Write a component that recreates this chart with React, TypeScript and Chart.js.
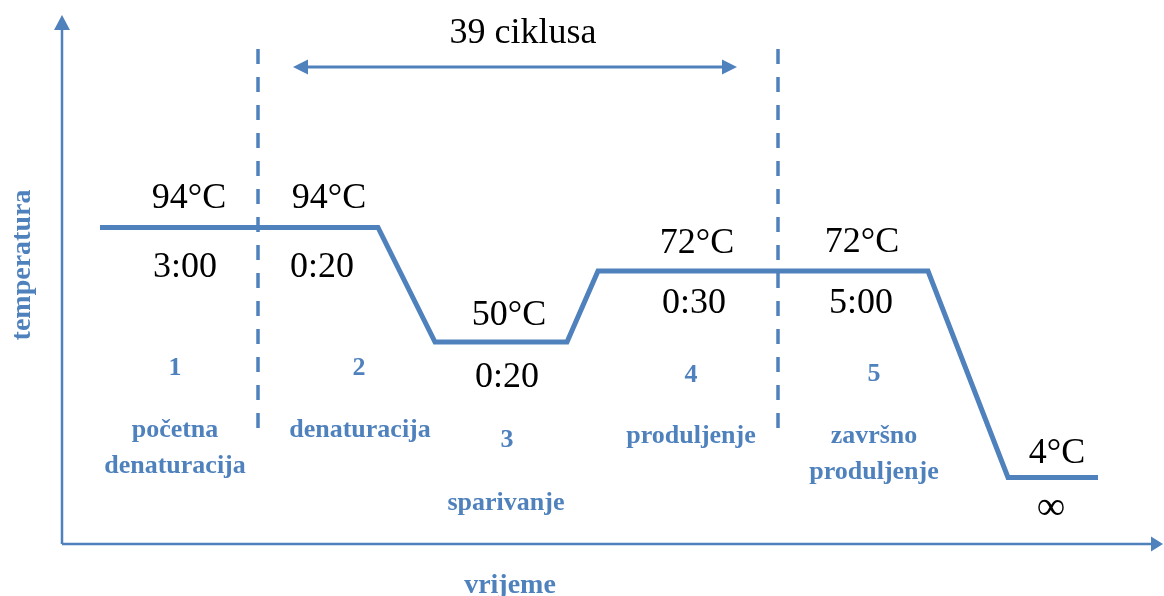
import React, { useEffect, useRef } from "react";
import { Chart, registerables } from "chart.js";

Chart.register(...registerables);

// ---- Data (diagram units: time from the y-axis, level above the x-axis) ----
const profileTime = [38, 316, 373, 505, 536, 866, 946, 1036];
const profileLevel = [316.5, 316.5, 202, 202, 273, 273, 66.5, 66.5];

const temperatures = ["94°C", "94°C", "50°C", "72°C", "72°C", "4°C"];
const durations = ["3:00", "0:20", "0:20", "0:30", "5:00", "∞"];
const stepNumbers = ["1", "2", "3", "4", "5"];
const stepNames = [
  ["početna", "denaturacija"],
  ["denaturacija"],
  ["sparivanje"],
  ["produljenje"],
  ["završno", "produljenje"],
];
const cycleBoundaries = [196, 716];
const cycleLabel = "39 ciklusa";
const xTitle = "vrijeme";
const yTitle = "temperatura";

// ---- Layout (anchors in diagram units) ----
const tempPos = [[127, 336], [267, 336], [447, 219], [635, 291], [800, 292], [995, 81]];
const durPos = [[123, 267], [260, 267], [445, 157], [632, 231], [799, 231], [989, 25]];
const stepNumPos = [[113, 169], [297, 169], [445, 97], [629, 162], [812, 163]];
const stepNamePos = [[113, 107], [298, 107], [444, 34], [629, 101], [812, 101]];
const stepLineGap = 36;
const cycleArrow = { y: 477, x0: 231, x1: 675, labelX: 461, labelY: 501 };
const dashSpan = [116, 495];
const axisEnds = { x: 1101, y: 529 };
const xTitlePos = [448, -49];
const yTitlePos = [-32, 279];

const BLUE = "#4F81BD";
const SERIF = '"Liberation Serif", "Times New Roman", serif';

const diagramPlugin = {
  id: "pcrDiagram",
  afterDatasetsDraw(chart: any) {
    const ctx = chart.ctx as CanvasRenderingContext2D;
    const xs = chart.scales.x;
    const ys = chart.scales.y;
    const px = (v: number) => xs.getPixelForValue(v);
    const py = (v: number) => ys.getPixelForValue(v);

    const tri = (tx: number, ty: number, dirX: number, dirY: number, len: number, half: number) => {
      const bx = tx - dirX * len;
      const by = ty - dirY * len;
      ctx.beginPath();
      ctx.moveTo(tx, ty);
      ctx.lineTo(bx - dirY * half, by + dirX * half);
      ctx.lineTo(bx + dirY * half, by - dirX * half);
      ctx.closePath();
      ctx.fill();
    };

    ctx.save();
    ctx.fillStyle = BLUE;
    // axis arrowheads
    tri(px(axisEnds.x), py(0), 1, 0, 12, 7.5);
    tri(px(0), py(axisEnds.y), 0, -1, 15, 8);
    // cycle arrowheads
    tri(px(cycleArrow.x0), py(cycleArrow.y), -1, 0, 15, 7.5);
    tri(px(cycleArrow.x1), py(cycleArrow.y), 1, 0, 15, 7.5);

    // black labels
    ctx.fillStyle = "#000";
    ctx.textAlign = "center";
    ctx.textBaseline = "alphabetic";
    ctx.font = `36px ${SERIF}`;
    temperatures.forEach((t, i) => ctx.fillText(t, px(tempPos[i][0]), py(tempPos[i][1])));
    durations.forEach((t, i) => {
      ctx.font = t === "∞" ? `40px ${SERIF}` : `36px ${SERIF}`;
      ctx.fillText(t, px(durPos[i][0]), py(durPos[i][1]));
    });
    ctx.font = `36px ${SERIF}`;
    ctx.fillText(cycleLabel, px(cycleArrow.labelX), py(cycleArrow.labelY));

    // blue step labels
    ctx.fillStyle = BLUE;
    ctx.font = `bold 26px ${SERIF}`;
    stepNumbers.forEach((n, i) => ctx.fillText(n, px(stepNumPos[i][0]), py(stepNumPos[i][1])));
    stepNames.forEach((lines, i) => {
      lines.forEach((l, j) =>
        ctx.fillText(l, px(stepNamePos[i][0]), py(stepNamePos[i][1] - j * stepLineGap))
      );
    });

    // axis titles
    ctx.font = `bold 28px ${SERIF}`;
    ctx.fillText(xTitle, px(xTitlePos[0]), py(xTitlePos[1]));
    ctx.save();
    ctx.translate(px(yTitlePos[0]), py(yTitlePos[1]));
    ctx.rotate(-Math.PI / 2);
    ctx.fillText(yTitle, 0, 0);
    ctx.restore();

    ctx.restore();
  },
};

export default function App() {
  const ref = useRef<HTMLCanvasElement | null>(null);

  useEffect(() => {
    if (!ref.current) return;
    const line = (data: { x: number; y: number }[], width: number, dash: number[] = []) => ({
      data,
      showLine: true,
      borderColor: BLUE,
      backgroundColor: BLUE,
      borderWidth: width,
      borderDash: dash,
      borderCapStyle: "butt" as const,
      borderJoinStyle: "miter" as const,
      pointRadius: 0,
      pointHoverRadius: 0,
      tension: 0,
      fill: false,
      clip: false as any,
    });

    const chart = new Chart(ref.current, {
      type: "scatter",
      data: {
        datasets: [
          line([{ x: 0, y: 0 }, { x: axisEnds.x - 10, y: 0 }], 2.5),
          line([{ x: 0, y: 0 }, { x: 0, y: axisEnds.y - 12 }], 2.5),
          ...cycleBoundaries.map((b) =>
            line([{ x: b, y: dashSpan[1] }, { x: b, y: dashSpan[0] }], 3.5, [15, 13])
          ),
          line(
            [
              { x: cycleArrow.x0 + 12, y: cycleArrow.y },
              { x: cycleArrow.x1 - 12, y: cycleArrow.y },
            ],
            3
          ),
          line(
            profileTime.map((t, i) => ({ x: t, y: profileLevel[i] })),
            5
          ),
        ],
      },
      options: {
        responsive: false,
        animation: false,
        devicePixelRatio: 1,
        layout: { padding: 0 },
        events: [],
        scales: {
          x: { type: "linear", display: false, min: -62, max: 1102 },
          y: { type: "linear", display: false, min: -52, max: 544 },
        },
        plugins: {
          legend: { display: false },
          tooltip: { enabled: false },
          title: { display: false },
        },
      },
      plugins: [diagramPlugin],
    });
    return () => chart.destroy();
  }, []);

  return (
    <div style={{ position: "fixed", left: 0, top: 0, width: 1164, height: 596, background: "#fff" }}>
      <canvas ref={ref} width={1164} height={596} style={{ display: "block" }} />
    </div>
  );
}
